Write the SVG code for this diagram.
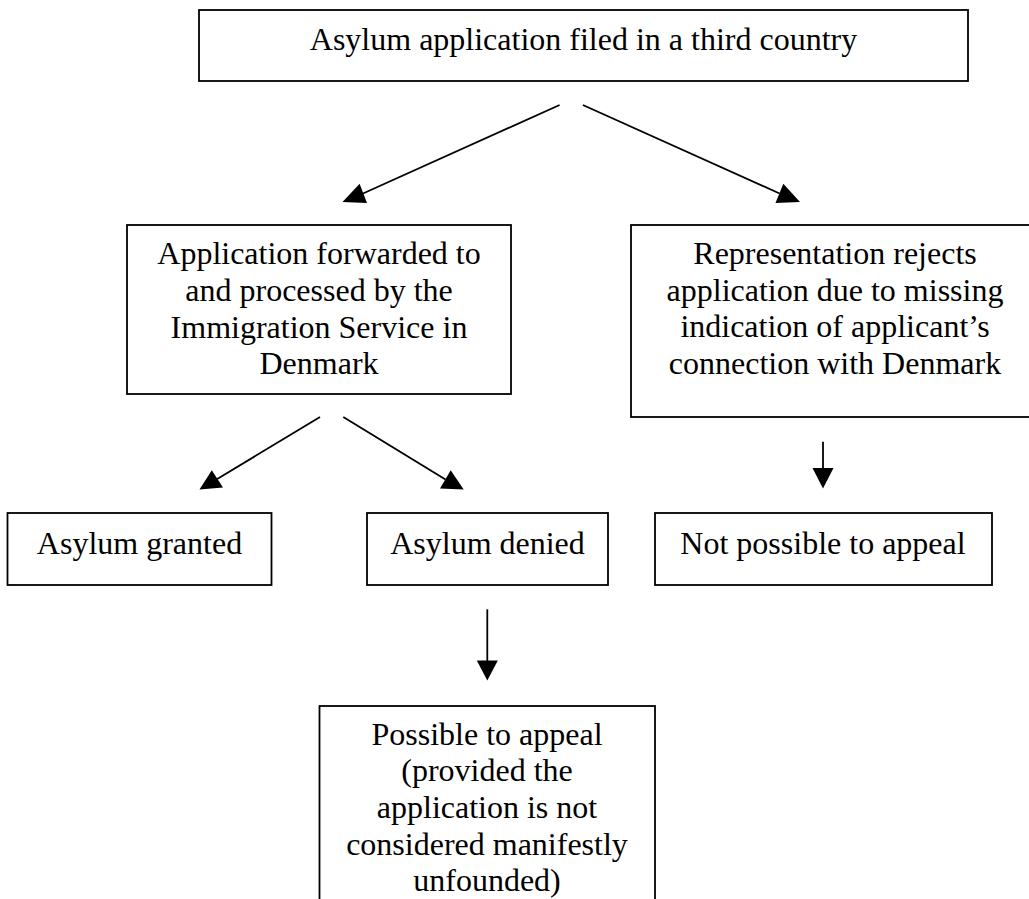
<svg xmlns="http://www.w3.org/2000/svg" width="1029" height="899" viewBox="0 0 1029 899">
<style>
  .box { fill: #ffffff; stroke: #000000; stroke-width: 1.8; }
  .lbl { font-family: "Liberation Serif", "Times New Roman", serif; font-size: 32px; fill: #000000; text-anchor: middle; }
  .ln { stroke: #000000; stroke-width: 1.8; fill: none; }
  .head { fill: #000000; stroke: none; }
</style>
<rect x="0" y="0" width="1029" height="899" fill="#ffffff"/>

<g id="node-top">
  <rect class="box" x="199" y="10" width="769" height="71"/>
  <text class="lbl" x="583.5" y="50">Asylum application filed in a third country</text>
</g>

<g id="node-forwarded">
  <rect class="box" x="127" y="225" width="384" height="169"/>
  <text class="lbl" x="319" y="264">Application forwarded to</text>
  <text class="lbl" x="319" y="301">and processed by the</text>
  <text class="lbl" x="319" y="337.5">Immigration Service in</text>
  <text class="lbl" x="319" y="374">Denmark</text>
</g>

<g id="node-rejects">
  <rect class="box" x="631" y="225" width="410" height="192"/>
  <text class="lbl" x="835" y="264">Representation rejects</text>
  <text class="lbl" x="835" y="300.5">application due to missing</text>
  <text class="lbl" x="835" y="337">indication of applicant’s</text>
  <text class="lbl" x="835" y="374">connection with Denmark</text>
</g>

<g id="node-granted">
  <rect class="box" x="7.5" y="513" width="264" height="72"/>
  <text class="lbl" x="139.5" y="554">Asylum granted</text>
</g>

<g id="node-denied">
  <rect class="box" x="367" y="513" width="241" height="72"/>
  <text class="lbl" x="487.5" y="554">Asylum denied</text>
</g>

<g id="node-not-possible">
  <rect class="box" x="655" y="513" width="337" height="72"/>
  <text class="lbl" x="823" y="553.5">Not possible to appeal</text>
</g>

<g id="node-possible">
  <rect class="box" x="319.5" y="706" width="335.5" height="220"/>
  <text class="lbl" x="487" y="744.5">Possible to appeal</text>
  <text class="lbl" x="487" y="781">(provided the</text>
  <text class="lbl" x="487" y="818">application is not</text>
  <text class="lbl" x="487" y="854.5">considered manifestly</text>
  <text class="lbl" x="487" y="891">unfounded)</text>
</g>

<g id="connectors">
  <line class="ln" x1="559.6" y1="105" x2="363" y2="193.5"/>
  <polygon class="head" points="342.5,202 367,203 359.6,183.8"/>
  <line class="ln" x1="582.9" y1="105" x2="779.6" y2="193.5"/>
  <polygon class="head" points="800,202 775.5,203 783.3,183.8"/>

  <line class="ln" x1="320" y1="417" x2="217.2" y2="479"/>
  <polygon class="head" points="199.5,489.6 223,487.6 211.8,470.3"/>
  <line class="ln" x1="343.3" y1="417" x2="445.5" y2="479.5"/>
  <polygon class="head" points="463.7,489.6 440,488.6 450.7,470.3"/>

  <line class="ln" x1="823" y1="441.7" x2="823" y2="470"/>
  <polygon class="head" points="812.5,468 833.5,468 823,488.5"/>

  <line class="ln" x1="487.3" y1="609.3" x2="487.3" y2="662"/>
  <polygon class="head" points="476.8,660.5 497.8,660.5 487.3,680.5"/>
</g>
</svg>
